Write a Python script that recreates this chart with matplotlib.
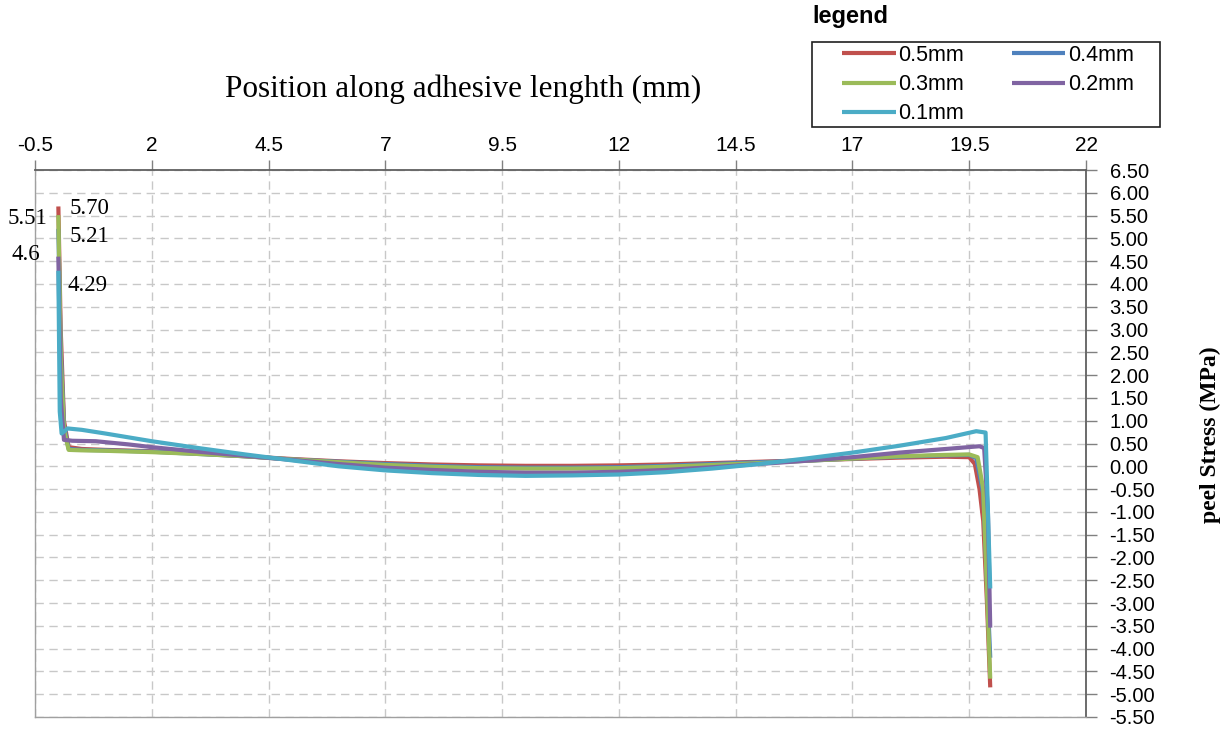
import matplotlib
matplotlib.use("Agg")
import matplotlib.pyplot as plt
from matplotlib.patches import Rectangle
import numpy as np

# ---- data ----
series_names = ["0.5mm", "0.4mm", "0.3mm", "0.2mm", "0.1mm"]
colors = ["#C0504D", "#4F81BD", "#9BBB59", "#8064A2", "#4BACC6"]

x_red = [0, 0.05, 0.12, 0.22, 0.5, 1, 2, 3, 4, 5, 6, 7, 8, 9, 10, 11, 12, 13, 14, 15, 16, 17, 18, 19, 19.5, 19.62, 19.72, 19.8, 19.88, 19.95]
y_red = [5.70, 3.0, 1.0, 0.42, 0.38, 0.36, 0.33, 0.28, 0.22, 0.16, 0.11, 0.07, 0.04, 0.02, 0.01, 0.01, 0.02, 0.04, 0.07, 0.10, 0.13, 0.16, 0.19, 0.21, 0.20, 0.05, -0.5, -1.2, -3.0, -4.85]

x_blue = [0, 0.05, 0.12, 0.22, 0.5, 1, 2, 3, 4, 5, 6, 7, 8, 9, 10, 11, 12, 13, 14, 15, 16, 17, 18, 19, 19.5, 19.65, 19.8, 19.95]
y_blue = [5.21, 2.6, 0.9, 0.38, 0.36, 0.35, 0.32, 0.27, 0.22, 0.15, 0.10, 0.05, 0.01, -0.02, -0.03, -0.03, -0.02, 0.01, 0.05, 0.09, 0.12, 0.17, 0.21, 0.24, 0.25, 0.18, -0.6, -4.20]

x_green = [0, 0.05, 0.12, 0.22, 0.5, 1, 2, 3, 4, 5, 6, 7, 8, 9, 10, 11, 12, 13, 14, 15, 16, 17, 18, 19, 19.5, 19.68, 19.8, 19.95]
y_green = [5.51, 2.4, 0.8, 0.36, 0.35, 0.34, 0.31, 0.27, 0.22, 0.15, 0.09, 0.03, -0.01, -0.04, -0.05, -0.05, -0.04, -0.01, 0.03, 0.07, 0.12, 0.17, 0.22, 0.25, 0.26, 0.20, -0.5, -4.66]

x_purple = [0, 0.05, 0.12, 0.3, 0.8, 1.5, 2, 3, 4, 5, 6, 7, 8, 9, 10, 11, 12, 13, 14, 15, 16, 17, 18, 19, 19.72, 19.82, 19.9, 19.95]
y_purple = [4.60, 1.5, 0.58, 0.56, 0.55, 0.48, 0.42, 0.32, 0.23, 0.14, 0.05, -0.03, -0.08, -0.12, -0.14, -0.14, -0.12, -0.08, -0.02, 0.05, 0.12, 0.20, 0.30, 0.38, 0.44, 0.40, -1.0, -3.54]

x_cyan = [0, 0.03, 0.07, 0.2, 0.5, 1, 2, 3, 4, 5, 6, 7, 8, 9, 10, 11, 12, 13, 14, 15, 16, 17, 18, 19, 19.65, 19.85, 19.95]
y_cyan = [4.29, 1.2, 0.72, 0.83, 0.80, 0.72, 0.55, 0.40, 0.26, 0.13, 0.00, -0.09, -0.15, -0.19, -0.21, -0.20, -0.18, -0.13, -0.05, 0.05, 0.17, 0.30, 0.45, 0.62, 0.77, 0.74, -2.68]

peak_labels = ["5.70", "5.21", "5.51", "4.6", "4.29"]

x_ticks = [-0.5, 2, 4.5, 7, 9.5, 12, 14.5, 17, 19.5, 22]
y_ticks = [6.5, 6.0, 5.5, 5.0, 4.5, 4.0, 3.5, 3.0, 2.5, 2.0, 1.5, 1.0, 0.5, 0.0,
           -0.5, -1.0, -1.5, -2.0, -2.5, -3.0, -3.5, -4.0, -4.5, -5.0, -5.5]

xs = [x_red, x_blue, x_green, x_purple, x_cyan]
ys = [y_red, y_blue, y_green, y_purple, y_cyan]

# ---- figure ----
W, H = 1231, 732
fig = plt.figure(figsize=(W/100, H/100), dpi=100)
ax = fig.add_axes([35/W, 1 - 717/H, (1086-35)/W, (717-170)/H])

handles = []
for xv, yv, c, n in zip(xs, ys, colors, series_names):
    h, = ax.plot(xv, yv, color=c, lw=3.0, label=n, solid_joinstyle="round", solid_capstyle="butt")
    handles.append(h)

ax.set_xlim(x_ticks[0], x_ticks[-1])
ax.set_ylim(y_ticks[-1], y_ticks[0])
ax.set_xticks(x_ticks)
ax.set_xticklabels([("%g" % v) for v in x_ticks])
ax.set_yticks(y_ticks)
ax.set_yticklabels(["%.2f" % v for v in y_ticks])

ax.xaxis.tick_top()
ax.yaxis.tick_right()
ax.tick_params(axis="x", direction="out", length=7, width=1, color="#808080",
               labelsize=15, pad=4)
ax.tick_params(axis="y", direction="out", length=8, width=1, color="#808080",
               labelsize=14.5, pad=9)
for lab in ax.get_xticklabels() + ax.get_yticklabels():
    lab.set_fontfamily("Liberation Sans")

ax.grid(True, color="#C8C8C8", linestyle=(0, (6, 4)), linewidth=1)
ax.set_axisbelow(True)
for side in ["top", "right"]:
    ax.spines[side].set_color("#606060")
    ax.spines[side].set_linewidth(1.3)
for side in ["left", "bottom"]:
    ax.spines[side].set_color("#A0A0A0")
    ax.spines[side].set_linewidth(1.0)

# titles
fig.text(463/W, 1 - 89/H, "Position along adhesive lenghth (mm)",
         family="Liberation Serif", fontsize=22.5, ha="center", va="center")
fig.text(1210/W, 1 - 435/H, "peel Stress (MPa)", family="Liberation Serif",
         fontsize=17, fontweight="bold", rotation=90, ha="center", va="center")

# peak annotations
ann_pos = [(70, 208), (70, 237), (8, 218), (12, 255), (68, 285)]
for lab, (px, py) in zip(peak_labels, ann_pos):
    fig.text(px/W, 1 - py/H, lab, family="Liberation Serif", fontsize=16.5,
             ha="left", va="center")

# legend (frame drawn separately)
order = [0, 2, 4, 1, 3]
leg = fig.legend([handles[i] for i in order], [series_names[i] for i in order],
                 ncol=2, loc="upper left", bbox_to_anchor=(842/W, 1 - 45/H),
                 frameon=False,
                 prop={"family": "Liberation Sans", "size": 15.5}, handlelength=2.5,
                 handletextpad=0.12, borderaxespad=0, labelspacing=0.38,
                 columnspacing=2.2, borderpad=0)
for l in leg.get_lines():
    l.set_linewidth(3.0)
fig.patches.append(Rectangle((812/W, 1 - 127/H), (1160-812)/W, (127-42)/H,
                             transform=fig.transFigure, fill=False,
                             edgecolor="#202020", linewidth=1.2))
fig.text(812/W, 1 - 17/H, "legend", family="Liberation Sans", fontsize=17,
         fontweight="bold", ha="left", va="center")

fig.savefig("out.png", dpi=100)
